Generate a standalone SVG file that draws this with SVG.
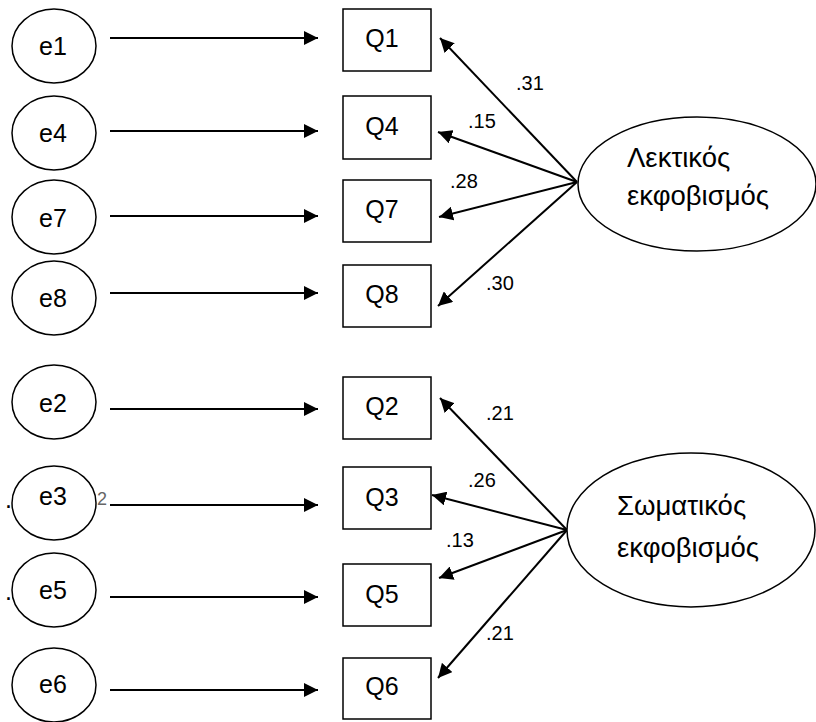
<svg xmlns="http://www.w3.org/2000/svg" width="816" height="722" viewBox="0 0 816 722">
<defs>
<marker id="ah" markerUnits="userSpaceOnUse" markerWidth="15" markerHeight="14" refX="14" refY="7" orient="auto" viewBox="0 0 15 14">
<path d="M0,0 L14,7 L0,14 Z" fill="#000"/>
</marker>
</defs>
<style>
.ell{fill:#fff;stroke:#000;stroke-width:1.5}
.box{fill:#fff;stroke:#000;stroke-width:1.5}
.lbl{font-family:"Liberation Sans",Arial,sans-serif;font-size:25px;fill:#000;text-anchor:middle}
.lat{font-family:"Liberation Sans",Arial,sans-serif;font-size:27.5px;fill:#000}
.num{font-family:"Liberation Sans",Arial,sans-serif;font-size:20px;fill:#000}
.dot{font-family:"Liberation Sans",Arial,sans-serif;font-size:25px;fill:#000}
.stray{font-family:"Liberation Sans",Arial,sans-serif;font-size:18px;fill:#666}
.con line{stroke:#000;stroke-width:2;marker-end:url(#ah)}
</style>
<rect width="816" height="722" fill="#fff"/>
<g id="connectors" class="con">
<line x1="110" y1="38" x2="318" y2="38"/>
<line x1="110" y1="131" x2="318" y2="131"/>
<line x1="110" y1="216" x2="318" y2="216"/>
<line x1="110" y1="293" x2="318" y2="293"/>
<line x1="110" y1="409" x2="318" y2="409"/>
<line x1="110" y1="505" x2="318" y2="505"/>
<line x1="110" y1="597" x2="318" y2="597"/>
<line x1="110" y1="690" x2="318" y2="690"/>
<line x1="577" y1="182" x2="440" y2="38"/>
<line x1="577" y1="182" x2="438" y2="132"/>
<line x1="577" y1="182" x2="439" y2="217"/>
<line x1="577" y1="182" x2="438" y2="306"/>
<line x1="567" y1="530" x2="440" y2="398"/>
<line x1="567" y1="530" x2="432" y2="495"/>
<line x1="567" y1="530" x2="439" y2="578"/>
<line x1="567" y1="530" x2="438" y2="678"/>
</g>
<g id="labels">
<text class="num" x="516" y="90">.31</text>
<text class="num" x="468" y="128">.15</text>
<text class="num" x="450" y="188">.28</text>
<text class="num" x="486" y="290">.30</text>
<text class="num" x="486" y="420">.21</text>
<text class="num" x="468" y="487">.26</text>
<text class="num" x="446" y="547">.13</text>
<text class="num" x="486" y="640">.21</text>
</g>
<g id="e1"><ellipse class="ell" cx="54" cy="46" rx="42" ry="37"/><text class="lbl" x="53" y="55">e1</text></g>
<g id="e4"><ellipse class="ell" cx="54" cy="133" rx="42" ry="37"/><text class="lbl" x="53" y="142">e4</text></g>
<g id="e7"><ellipse class="ell" cx="54" cy="217" rx="42" ry="37"/><text class="lbl" x="53" y="227">e7</text></g>
<g id="e8"><ellipse class="ell" cx="54" cy="298" rx="42" ry="37"/><text class="lbl" x="53" y="307">e8</text></g>
<g id="e2"><ellipse class="ell" cx="54" cy="402" rx="42" ry="37"/><text class="lbl" x="53" y="412">e2</text></g>
<g id="e3"><ellipse class="ell" cx="54" cy="503" rx="42" ry="37"/><text class="lbl" x="53" y="505">e3</text><text class="dot" x="5" y="508">.</text><text class="stray" x="97" y="505">2</text></g>
<g id="e5"><ellipse class="ell" cx="54" cy="590" rx="42" ry="37"/><text class="lbl" x="53" y="599">e5</text><text class="dot" x="5" y="600">.</text></g>
<g id="e6"><ellipse class="ell" cx="54" cy="685" rx="42" ry="37"/><text class="lbl" x="53" y="693">e6</text></g>
<g id="Q1"><rect class="box" x="343" y="9" width="88" height="62"/><text class="lbl" x="382" y="47">Q1</text></g>
<g id="Q4"><rect class="box" x="343" y="96" width="88" height="63"/><text class="lbl" x="382" y="135">Q4</text></g>
<g id="Q7"><rect class="box" x="343" y="180" width="88" height="62"/><text class="lbl" x="382" y="218">Q7</text></g>
<g id="Q8"><rect class="box" x="343" y="265" width="88" height="62"/><text class="lbl" x="382" y="303">Q8</text></g>
<g id="Q2"><rect class="box" x="343" y="377" width="88" height="62"/><text class="lbl" x="382" y="415">Q2</text></g>
<g id="Q3"><rect class="box" x="343" y="467" width="88" height="62"/><text class="lbl" x="382" y="506">Q3</text></g>
<g id="Q5"><rect class="box" x="343" y="564" width="88" height="62"/><text class="lbl" x="382" y="603">Q5</text></g>
<g id="Q6"><rect class="box" x="343" y="658" width="88" height="61"/><text class="lbl" x="382" y="695">Q6</text></g>
<g id="verbal"><ellipse class="ell" cx="697" cy="184" rx="119" ry="67"/><text class="lat" x="627" y="167">Λεκτικός</text><text class="lat" x="627" y="205">εκφοβισμός</text></g>
<g id="physical"><ellipse class="ell" cx="691" cy="530" rx="124" ry="77"/><text class="lat" x="617" y="515">Σωματικός</text><text class="lat" x="617" y="557">εκφοβισμός</text></g>
</svg>
